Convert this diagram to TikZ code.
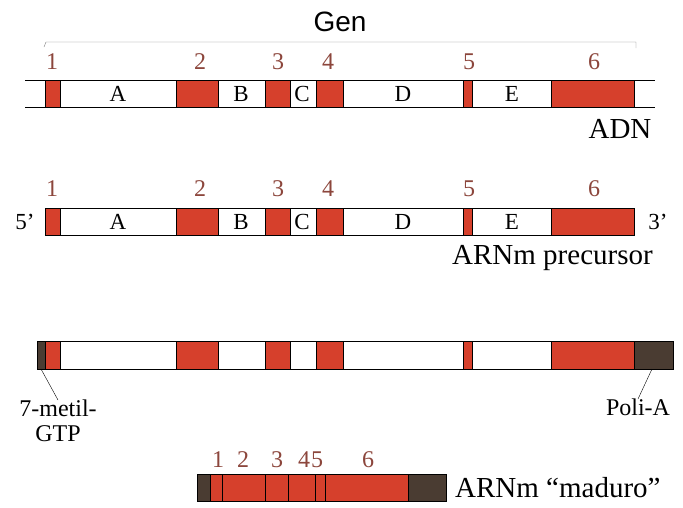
\documentclass[tikz,border=0pt]{standalone}
\usepackage{fontspec}
\setmainfont{Liberation Serif}
\newfontfamily\gensans{Liberation Sans}
\definecolor{exonred}{RGB}{214,64,44}
\definecolor{capbrown}{RGB}{74,60,50}
\definecolor{numred}{RGB}{140,70,60}
\tikzset{
	exon/.style={draw=black, fill=exonred, line width=0.8pt},
	capend/.style={draw=black, fill=capbrown, line width=0.8pt},
	strand/.style={line width=0.9pt},
	num/.style={text=numred, font=\fontsize{24}{24}\selectfont, inner sep=0pt},
	intron/.style={font=\fontsize{23}{23}\selectfont, inner sep=0pt},
	caption/.style={font=\fontsize{29}{29}\selectfont, inner sep=0pt},
	tag/.style={font=\fontsize{24}{25}\selectfont, inner sep=0pt, align=center}
}

\begin{document}
\begin{tikzpicture}[x=1pt, y=-1pt]
	\useasboundingbox (0,0) rectangle (683,507);
	
	\node[font=\gensans\fontsize{28}{28}\selectfont] (gen) at (340,22) {Gen};
	\draw[gray, thin] (44,47) -- (46,42) -- (636,42) -- (636,48);
	
	% ADN
	\draw[strand] (25,80) -- (655,80);
	\draw[strand] (25,107) -- (655,107);
	\foreach \a/\b in {45/60, 176/218, 265/290, 316/343, 463/472, 551/634}
		\draw[exon] (\a,80) rectangle (\b,107);
	\foreach \n/\x in {1/52, 2/200, 3/278, 4/328, 5/469, 6/594}
		\node[num] (dn\n) at (\x,62) {\n};
	\foreach \l/\x in {A/118, B/241, C/302, D/403, E/512}
		\node[intron] (dl\l) at (\x,94) {\l};
	\node[caption] (adn) at (620,129) {ADN};
	
	% ARNm precursor
	\draw[strand, fill=white] (45,208) rectangle (634,235);
	\foreach \a/\b in {45/60, 176/218, 265/290, 316/343, 463/472, 551/634}
		\draw[exon] (\a,208) rectangle (\b,235);
	\foreach \n/\x in {1/52, 2/200, 3/278, 4/328, 5/469, 6/594}
		\node[num] (pn\n) at (\x,189) {\n};
	\foreach \l/\x in {A/118, B/241, C/302, D/403, E/512}
		\node[intron] (pl\l) at (\x,222) {\l};
	\node[intron] (five) at (25,222) {5’};
	\node[intron] (three) at (658,222) {3’};
	\node[caption, anchor=west] (prec) at (452,258) {ARNm precursor};
	
	% ARNm con caperuza y cola
	\draw[strand, fill=white] (37,341) rectangle (673,369);
	\foreach \a/\b in {45/60, 176/218, 265/290, 316/343, 463/472, 551/634}
		\draw[exon] (\a,341) rectangle (\b,369);
	\draw[capend] (37,341) rectangle (45,369);
	\draw[capend] (634,341) rectangle (673,369);
	\coordinate (cap) at (41,369);
	\coordinate (polya) at (652,369);
	\node[tag, anchor=north] (metil) at (58,400) {7-metil-\\GTP};
	\node[tag, anchor=north] (poli) at (638,399) {Poli-A};
	\draw[thin] (cap) -- (metil.north);
	\draw[thin] (polya) -- (poli.north);
	
	% ARNm maduro
	\draw[exon] (197,474) rectangle (446,501);
	\draw[capend] (197,474) rectangle (210,501);
	\draw[capend] (408,474) rectangle (446,501);
	\foreach \x in {222, 265, 288, 315, 325}
		\draw[thin] (\x,474) -- (\x,501);
	\foreach \n/\x in {1/218, 2/243, 3/277, 4/304, 5/317, 6/368}
		\node[num] (mn\n) at (\x,460) {\n};
	\node[caption, anchor=west] (mad) at (455,488) {ARNm “maduro”};
\end{tikzpicture}
\end{document}
